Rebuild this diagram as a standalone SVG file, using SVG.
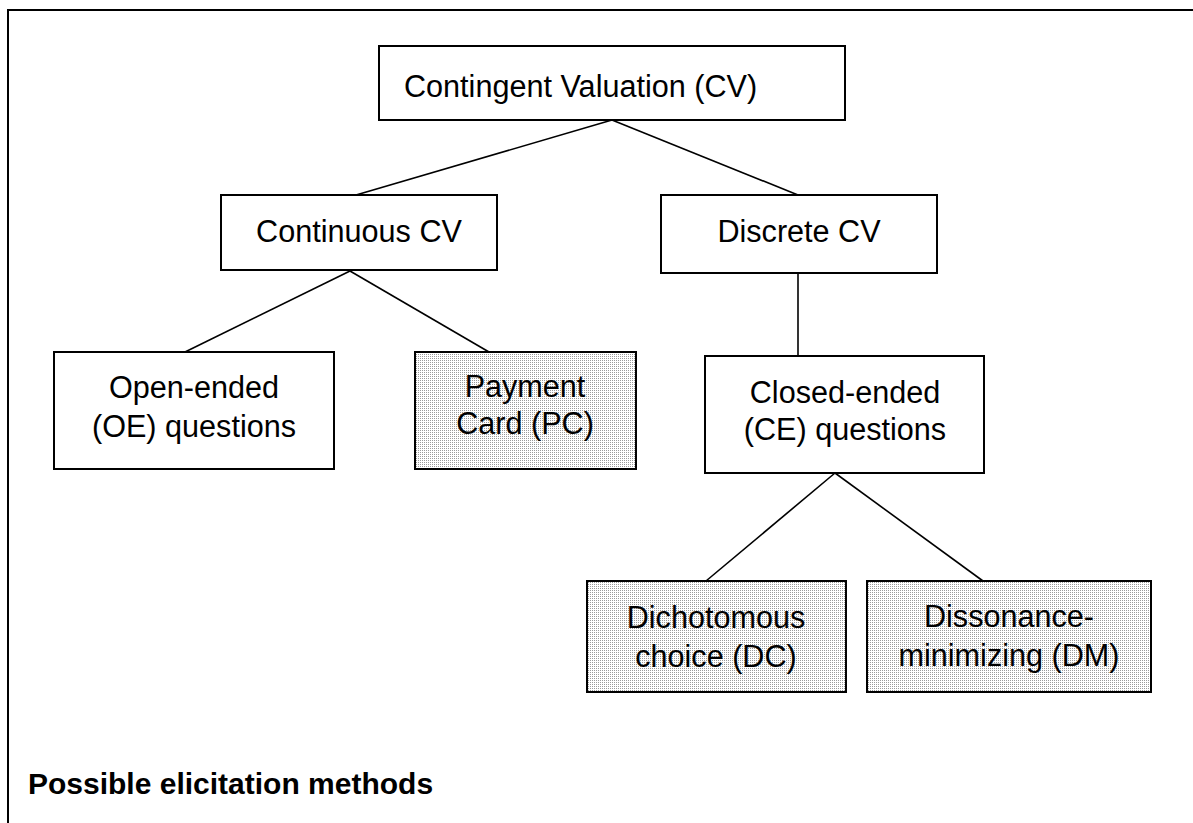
<svg xmlns="http://www.w3.org/2000/svg" width="1193" height="823" viewBox="0 0 1193 823">
<defs>
<pattern id="dots" width="2" height="2" patternUnits="userSpaceOnUse">
<rect width="2" height="2" fill="#ffffff"/>
<rect width="1" height="1" fill="#9a9a9a"/>
</pattern>
<style>
.box{fill:#ffffff;stroke:#000;stroke-width:2}
.shade{fill:url(#dots);stroke:#000;stroke-width:2}
.lbl{font-family:"Liberation Sans",Arial,sans-serif;font-size:30.6px;fill:#000}
.c{text-anchor:middle}
.conn line{stroke:#000;stroke-width:1.6}
.frame{stroke:#000;stroke-width:2;fill:none}
</style>
</defs>
<rect width="1193" height="823" fill="#ffffff"/>
<path class="frame" d="M1193,10 H8 V823"/>
<g class="conn" id="connectors">
<line x1="612" y1="120" x2="356" y2="195"/>
<line x1="612" y1="120" x2="798" y2="195"/>
<line x1="350" y1="271" x2="185" y2="352"/>
<line x1="350" y1="271" x2="489" y2="352"/>
<line x1="798" y1="273" x2="798" y2="356"/>
<line x1="835" y1="473" x2="706" y2="581"/>
<line x1="835" y1="473" x2="983" y2="581"/>
</g>
<g id="cv">
<rect class="box" x="379" y="46" width="466" height="74"/>
<text class="lbl" x="404" y="97">Contingent Valuation (CV)</text>
</g>
<g id="continuous">
<rect class="box" x="221" y="195" width="276" height="75"/>
<text class="lbl c" x="359" y="242">Continuous CV</text>
</g>
<g id="discrete">
<rect class="box" x="661" y="195" width="276" height="78"/>
<text class="lbl c" x="799" y="242">Discrete CV</text>
</g>
<g id="openended">
<rect class="box" x="54" y="352" width="280" height="117"/>
<text class="lbl c" x="194" y="398">Open-ended</text>
<text class="lbl c" x="194" y="437">(OE) questions</text>
</g>
<g id="payment">
<rect class="shade" x="415" y="352" width="221" height="117"/>
<text class="lbl c" x="525" y="397">Payment</text>
<text class="lbl c" x="525" y="434">Card (PC)</text>
</g>
<g id="closedended">
<rect class="box" x="705" y="356" width="279" height="117"/>
<text class="lbl c" x="845" y="403">Closed-ended</text>
<text class="lbl c" x="845" y="440">(CE) questions</text>
</g>
<g id="dichotomous">
<rect class="shade" x="587" y="581" width="259" height="111"/>
<text class="lbl c" x="716" y="628">Dichotomous</text>
<text class="lbl c" x="716" y="667">choice (DC)</text>
</g>
<g id="dissonance">
<rect class="shade" x="867" y="581" width="284" height="111"/>
<text class="lbl c" x="1009" y="627">Dissonance-</text>
<text class="lbl c" x="1009" y="666">minimizing (DM)</text>
</g>
<text x="28" y="794" style="font-family:'Liberation Sans',Arial,sans-serif;font-size:30px;font-weight:bold;fill:#000">Possible elicitation methods</text>
</svg>
